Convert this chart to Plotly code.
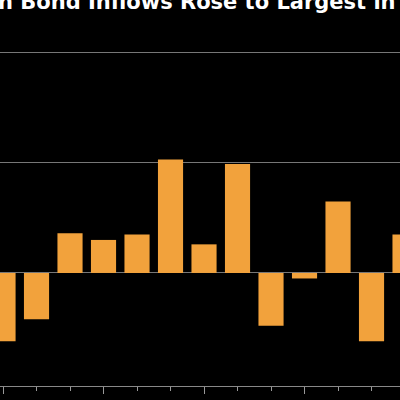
import plotly.graph_objects as go

positions = list(range(13))
values = [-6.2, -4.2, 3.6, 3.0, 3.5, 10.3, 2.6, 9.9, -4.8, -0.5, 6.5, -6.2, 3.5]
title_text = "n Bond Inflows Rose to Largest in"

fig = go.Figure(go.Bar(x=positions, y=values, marker_color="#f2a23c", width=0.75,
                       marker_line_width=0))
fig.update_layout(
    width=400, height=400, margin=dict(l=0, r=0, t=0, b=14),
    paper_bgcolor="black", plot_bgcolor="black", showlegend=False,
    xaxis=dict(range=[-0.09, 11.85], showgrid=False, zeroline=False,
               showline=True, linecolor="#888", linewidth=1,
               tickvals=[0, 3, 6, 9], ticks="outside", ticklen=7, tickcolor="#999",
               showticklabels=False,
               minor=dict(ticks="outside", ticklen=4, tickcolor="#999", dtick=1, tick0=0)),
    yaxis=dict(range=[-10.27, 24.8], tickvals=[0, 10, 20], showticklabels=False,
               gridcolor="#777", gridwidth=1, zeroline=False),
    annotations=[dict(text="<b>" + title_text + "</b>", xref="paper", yref="paper",
                      x=0, y=1, xanchor="left", yanchor="bottom", yshift=-16,
                      xshift=-4, showarrow=False,
                      font=dict(family="DejaVu Sans", size=21, color="white"))],
)
fig.write_html("out.html", config={"displayModeBar": False},
               post_script="document.body.style.margin='0';document.body.style.background='black';")
